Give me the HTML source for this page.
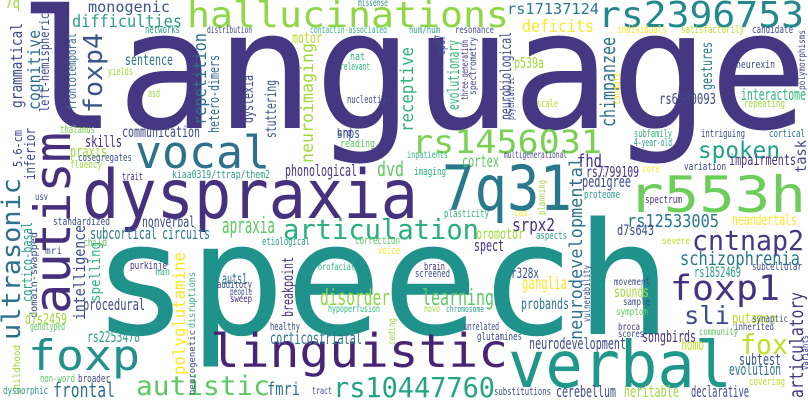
<!DOCTYPE html>
<html><head><meta charset="utf-8">
<style>
html,body{margin:0;padding:0;background:#fff;}
svg{display:block;}
text{font-family:"DejaVu Sans Mono","Liberation Mono",monospace;}
</style></head>
<body>
<svg id="cloud" width="808" height="404" viewBox="0 0 808 404" xmlns="http://www.w3.org/2000/svg">
<rect width="808" height="404" fill="#fff"/>
</svg>
<script>
const words = ["language","speech","dyspraxia","7q31","r553h","vocal","rs1456031","hallucinations","rs2396753","linguistic","verbal","foxp","rs10447760","autistic","polyglutamine","articulation","spoken","foxp1","cntnap2","sli","fox","schizophrenia","neurodevelopmental","autism","ultrasonic","foxp4","monogenic","difficulties","deficits","rs17137124","cognitive","grammatical","left-hemispheric","frontotemporal","repetition","hetero-dimers","motor","neuroimaging","sentence","stuttering","dyslexia","communication","skills","praxis","5.6-cm","inferior","cosegregates","fluency","phonological","dvd","snps","nucleotide","reading","brd","thalamus","networks","distribution","contactin-associated","missense","7q","yields","asd","nat","relevant","trait","kiaa0319/ttrap/them2","usv","cortico-basal","domain-swapped","intelligence","spelling","d7s2459","genotyped","rs2253478","procedural","subcortical","nonverbal","circuits","standardized","apraxia","child","mri","auts1","auditory","people","sweep","purkinje","han","disruptions","breakpoint","disorder","etiological","correction","voice","orofacial","hypoperfusion","healthy","corticostriatal","frontal","fmri","non-word","broader","childhood","dysmorphic","neurogenetic","tract","coding","receptive","hum/hum","resonance","upd7","evolutionary","three-generation","spectrometry","psychiatric","neurobiological","p539a","chimpanzee","gestures","individuals","satisfactorily","candidate","polymorphisms","neurexin","caudate","interactome","repeating","rs6980093","scale","subfamily","4-year-old","intriguing","cortical","task","impairments","fhd","cortex","inpatients","multigenerational","imaging","variation","core","rs7799109","pedigree","proteome","planning","spectrum","srpx2","oromotor","rs12533005","neandertals","d7s643","aspects","plasticity","cas","severe","spect","brain","screened","r328x","rs1852469","subcellular","vulnerability","ganglia","putamen","learning","probands","sounds","movement","sample","symptom","broca","scores","community","inherited","synaptic","novo","chromosome","unrelated","glutamines","songbirds","neurodevelopment","homo","articulatory","variants","subtest","evolution","covering","cerebellum","heritable","declarative","substitutions"];
const sizes = [165,156,68,62,50,45,32,36,36,46,64,42,28,27,17,28,23,35,28,25,28,19,18,50,26,26,15,17,17,15,17,16,13,12,18,14,15,17,15,15,14,15,16,16,12,14,11,11,16,20,14,11,11,11,11,11,10,10,10,14,11,11,11,11,11,11,10,14,10,16,14,15,11,15,16,16,15,16,11,22,11,10,15,11,10,10,11,10,10,15,22,11,11,11,10,10,11,17,20,18,11,11,10,11,9,10,10,18,10,10,14,16,10,10,10,15,15,20,15,11,11,11,10,11,10,16,11,15,11,11,11,11,11,15,15,18,17,10,10,11,11,10,15,16,11,10,11,18,15,18,15,14,11,11,10,10,16,11,11,14,14,11,10,17,14,22,15,15,10,10,10,10,10,10,10,10,10,9,11,11,16,16,15,19,9,16,16,11,16,16,16,11];
// placement rows: [x, baseline y, text length, colour, vertical]
const layout = [
[18,128,790,"#453781",0],[92,334,580,"#20928c",0],[82,218,336,"#46317e",0],[442,210,130,"#2a788e",0],[628,212,178,"#6ccd5a",0],
[135,168,135,"#2c718e",0],[412,153,190,"#7ad151",0],[187,27,322,"#8fd744",0],[598,27,206,"#23898e",0],[210,367,298,"#482475",0],
[508,387,224,"#1f988b",0],[28,370,112,"#21918c",0],[333,397,162,"#21a585",0],[136,395,134,"#5ec962",0],[185,375,123,"#fde725",1],
[283,239,196,"#29af7f",0],[698,158,82,"#1fa187",0],[670,300,110,"#46337f",0],[692,250,112,"#443983",0],[684,324,46,"#3e4989",0],
[740,354,48,"#bddf26",0],[680,265,120,"#2a788e",0],[582,340,183,"#2c728e",1],[70,314,182,"#46307e",1],[20,340,162,"#2c718e",1],
[102,113,80,"#3b528b",1],[88,12,82,"#3b528b",0],[72,27,110,"#2c9b8b",0],[522,32,72,"#fde725",0],[507,14,92,"#2a788e",0],
[40,110,80,"#2c728e",1],[22,108,85,"#3e4a89",1],[49,112,99,"#3e4989",1],[76,110,77,"#31688e",1],[206,125,92,"#2c728e",1],
[219,133,78,"#31688e",1],[292,43,30,"#bddf26",0],[313,163,120,"#a0da39",1],[125,65,48,"#2c728e",0],[276,138,58,"#3b528b",1],
[253,123,48,"#3e4989",1],[122,137,78,"#3e4989",0],[85,147,37,"#46307e",0],[70,157,37,"#a0da39",0],[22,167,37,"#3e4989",1],
[35,180,52,"#3e4989",1],[78,161,54,"#3b528b",0],[70,168,32,"#a0da39",0],[285,176,72,"#46337f",0],[377,176,27,"#5ec962",0],
[337,138,23,"#3b528b",0],[347,103,43,"#3e4989",0],[340,147,35,"#5ec962",0],[337,136,15,"#3e4989",0],[60,133,35,"#7ad151",0],
[145,33,35,"#2c9b8b",0],[207,33,45,"#3e4989",0],[310,33,77,"#2fb47c",0],[358,6,30,"#2c9b8b",0],[5,8,15,"#a0da39",0],
[108,75,25,"#a0da39",0],[148,97,12,"#a0da39",0],[350,60,15,"#2fb47c",0],[340,70,30,"#2fb47c",0],[122,180,21,"#46307e",0],
[172,178,98,"#2c9b8b",0],[35,200,13,"#3e4989",0],[32,302,80,"#25a085",1],[37,318,86,"#3e4989",1],[85,320,95,"#3e4989",1],
[100,302,60,"#2fb47c",1],[25,324,42,"#a0da39",0],[30,330,35,"#5ec962",0],[87,342,53,"#2c9b8b",0],[83,310,62,"#3e4989",0],
[90,239,67,"#2a788e",0],[142,227,53,"#3e4a89",0],[162,239,48,"#2a788e",0],[53,225,57,"#3b528b",0],[222,233,53,"#5ec962",0],
[83,246,24,"#5ec962",0],[45,254,17,"#3e4989",0],[222,284,25,"#2c728e",0],[217,288,35,"#3e4989",0],[230,295,22,"#3e4989",0],
[230,302,22,"#46307e",0],[130,269,37,"#46307e",0],[155,275,15,"#2fb47c",0],[195,328,56,"#2fb47c",1],[293,317,60,"#46337f",1],
[320,305,70,"#8fd744",0],[262,245,48,"#2c9b8b",0],[355,244,45,"#5ec962",0],[378,254,22,"#fde725",0],[318,270,37,"#2fb47c",0],
[328,312,52,"#2fb47c",0],[270,330,30,"#3e4989",0],[270,344,92,"#2a788e",0],[53,397,62,"#2c728e",0],[267,395,33,"#2c728e",0],
[40,382,35,"#5ec962",0],[78,382,32,"#3e4989",0],[20,395,50,"#a0da39",1],[3,394,45,"#2c9b8b",0],[195,395,65,"#3e4989",1],
[312,394,20,"#3e4989",0],[395,345,27,"#a0da39",1],[413,132,85,"#2fb47c",1],[409,33,31,"#2c9b8b",0],[455,33,39,"#3e4989",0],
[445,55,20,"#3b528b",1],[459,110,70,"#2fb47c",1],[468,100,60,"#46307e",1],[476,95,58,"#3e4989",1],[514,120,43,"#3e4989",1],
[511,120,88,"#3e4989",1],[514,68,30,"#a0da39",0],[615,127,90,"#2c728e",1],[712,90,48,"#2a788e",1],[617,33,50,"#fde725",0],
[681,33,63,"#bddf26",0],[752,33,41,"#3e4989",0],[805,90,60,"#3e4989",1],[736,68,39,"#3e4989",0],[620,105,33,"#fde725",1],
[741,100,65,"#2fb47c",0],[744,107,41,"#a0da39",0],[659,104,57,"#3e4989",0],[537,107,21,"#bddf26",0],[634,137,38,"#2fb47c",0],
[634,146,38,"#2c9b8b",0],[701,137,44,"#3e4989",0],[769,137,36,"#2c728e",0],[806,173,33,"#3e4989",1],[729,165,67,"#46327e",0],
[577,167,25,"#46307e",0],[462,167,37,"#5ec962",0],[407,158,41,"#2fb47c",0],[504,158,63,"#3e4989",0],[414,175,32,"#2fb47c",0],
[684,170,42,"#3e4989",0],[642,172,18,"#fde725",0],[586,177,53,"#46307e",0],[582,187,49,"#3e4989",0],[584,198,36,"#2c9b8b",0],
[545,215,35,"#a0da39",1],[645,203,37,"#46327e",0],[512,231,43,"#46307e",0],[476,239,48,"#a0da39",0],[627,227,92,"#2a788e",0],
[732,225,65,"#fde725",0],[617,235,37,"#3e4989",0],[536,239,31,"#2c9b8b",0],[444,217,45,"#2fb47c",0],[514,216,14,"#fde725",0],
[662,244,28,"#bddf26",0],[474,251,30,"#46327e",0],[424,270,21,"#46307e",0],[415,277,35,"#3e4989",0],[511,278,28,"#3e4989",0],
[694,277,47,"#2a9a8a",0],[752,270,50,"#3e4989",0],[590,322,57,"#3e4989",1],[522,289,45,"#fde725",0],[732,323,44,"#bddf26",0],
[422,305,72,"#5ec962",0],[521,309,48,"#2c728e",0],[614,297,35,"#a0da39",0],[614,285,36,"#3e4989",0],[623,305,27,"#3e4989",0],
[616,315,32,"#5ec962",0],[618,330,22,"#46307e",0],[618,337,26,"#3e4989",0],[699,335,39,"#5ec962",0],[734,330,40,"#3e4989",0],
[752,322,36,"#3e4989",0],[424,312,16,"#a0da39",0],[446,312,38,"#2c9b8b",0],[464,330,35,"#3e4989",0],[477,340,45,"#3e4989",0],
[642,342,54,"#46327e",0],[529,349,97,"#3e4989",0],[681,350,23,"#bddf26",0],[803,398,106,"#46327e",1],[808,370,35,"#3e4989",1],
[739,365,42,"#3b528b",0],[729,375,52,"#2c728e",0],[749,385,36,"#bddf26",0],[556,397,60,"#3e4989",0],[624,397,55,"#a0da39",0],
[691,397,58,"#3e4989",0],[494,395,57,"#3e4989",0]
];
const svg = document.getElementById('cloud');
const NS = 'http://www.w3.org/2000/svg';
for (let i = 0; i < words.length; i++) {
  const p = layout[i];
  const t = document.createElementNS(NS, 'text');
  
  
  t.setAttribute('font-size', sizes[i]);
  t.setAttribute('fill', p[3]);
  t.setAttribute('textLength', p[2]);
  t.setAttribute('lengthAdjust', 'spacingAndGlyphs');
  if (p[4]) {
    t.setAttribute('transform', 'translate(' + p[0] + ',' + p[1] + ') rotate(-90)');
  } else {
    t.setAttribute('x', p[0]);
    t.setAttribute('y', p[1]);
  }
  t.textContent = words[i];
  svg.appendChild(t);
}
</script>
</body></html>
